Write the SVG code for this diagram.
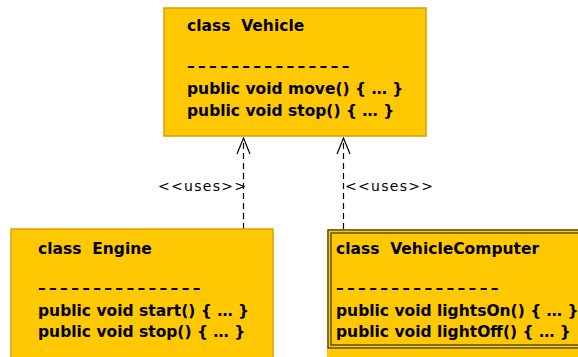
<svg xmlns="http://www.w3.org/2000/svg" width="578" height="357" viewBox="0 0 578 357">
<defs>
<style>
.box{fill:#FFC800;stroke:#D9A100;stroke-width:1.5}
.t{font-family:"DejaVu Sans",sans-serif;font-weight:bold;font-size:15.5px;fill:#000;white-space:pre}
.d{letter-spacing:3.3px}
.lbl{font-family:"DejaVu Sans",sans-serif;font-size:14px;fill:#000;letter-spacing:1.3px}
.dep{stroke:#000;stroke-width:1.2;stroke-dasharray:6,4;fill:none}
.head{stroke:#000;stroke-width:1.2;fill:none}
</style>
</defs>
<rect width="578" height="357" fill="#fff"/>
<g id="connectors">
<line class="dep" x1="243.5" y1="229" x2="243.5" y2="138"/>
<polyline class="head" points="237,154 243.5,138 250,154"/>
<text class="lbl" x="158" y="191">&lt;&lt;uses&gt;&gt;</text>
<line class="dep" x1="343.5" y1="229" x2="343.5" y2="138"/>
<polyline class="head" points="337,154 343.5,138 350,154"/>
<text class="lbl" x="345" y="191">&lt;&lt;uses&gt;&gt;</text>
</g>
<g id="vehicle">
<rect class="box" x="164" y="8" width="262" height="128"/>
<text class="t" x="187" y="31" xml:space="preserve">class  Vehicle</text>
<text class="t d" x="187" y="71">–––––––––––––––</text>
<text class="t" x="187" y="94">public void move() { … }</text>
<text class="t" x="187" y="116">public void stop() { … }</text>
</g>
<g id="engine">
<rect class="box" x="11" y="229" width="262" height="140"/>
<text class="t" x="38" y="254" xml:space="preserve">class  Engine</text>
<text class="t d" x="38" y="293">–––––––––––––––</text>
<text class="t" x="38" y="316">public void start() { … }</text>
<text class="t" x="38" y="337">public void stop() { … }</text>
</g>
<g id="vehiclecomputer">
<rect x="327" y="229" width="262" height="140" fill="#FFC800"/>
<rect x="328" y="230" width="262" height="118" fill="none" stroke="#333" stroke-width="1.2"/>
<rect x="331" y="233" width="262" height="112" fill="none" stroke="#333" stroke-width="1.2"/>
<text class="t" x="336" y="254" xml:space="preserve">class  VehicleComputer</text>
<text class="t d" x="336" y="293">–––––––––––––––</text>
<text class="t" x="336" y="316">public void lightsOn() { … }</text>
<text class="t" x="336" y="337">public void lightOff() { … }</text>
</g>
</svg>
